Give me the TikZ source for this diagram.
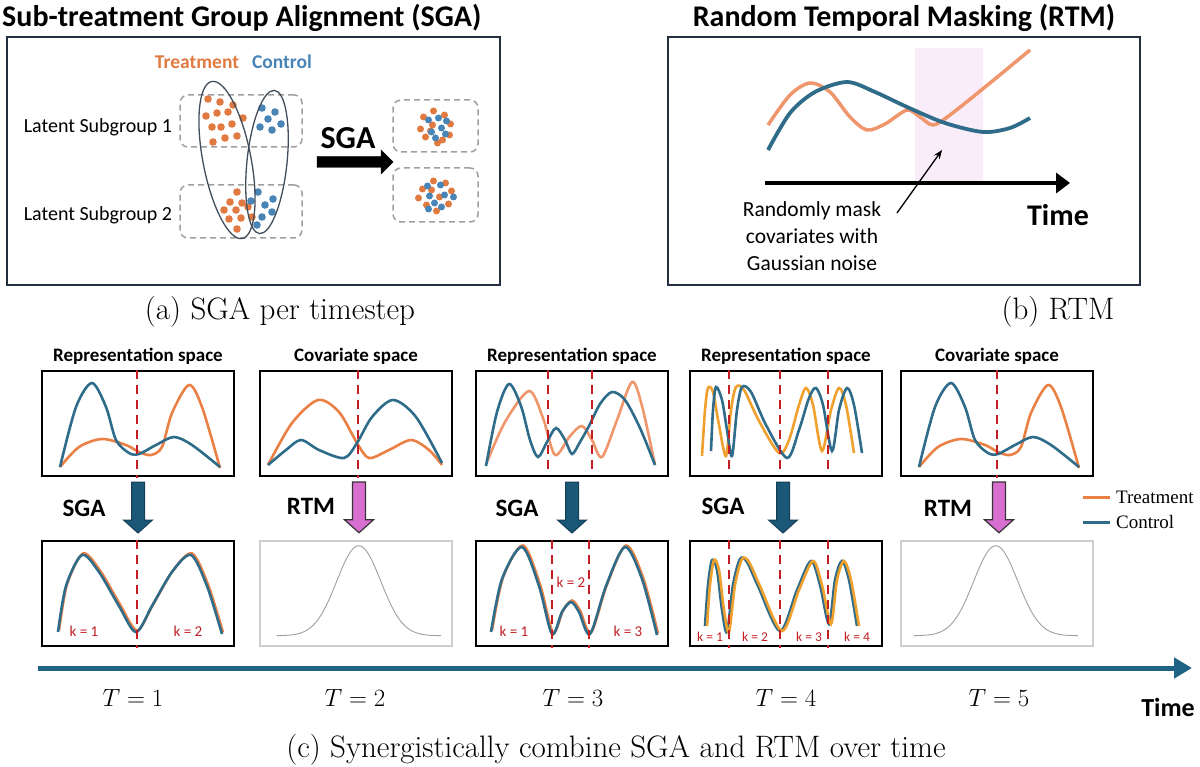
\documentclass[tikz,border=0pt]{standalone}
\usepackage{fontspec}
\setsansfont{Carlito}
\newfontfamily\legendfont{Liberation Serif}
\usepackage{tikz}
\usetikzlibrary{arrows.meta,calc}
\definecolor{treat-orange}{RGB}{224,122,64}
\definecolor{ctrl-blue}{RGB}{72,132,182}
\definecolor{curve-orange}{RGB}{234,128,68}
\definecolor{curve-blue}{RGB}{46,108,138}
\definecolor{soft-orange}{RGB}{240,150,108}
\definecolor{gold-orange}{RGB}{240,160,45}
\definecolor{mask-pink}{RGB}{249,237,250}
\definecolor{frame-navy}{RGB}{32,46,62}
\definecolor{cut-red}{RGB}{194,30,36}
\definecolor{sga-teal}{RGB}{27,88,120}
\definecolor{rtm-pink}{RGB}{216,110,208}
\definecolor{axis-teal}{RGB}{30,98,132}
\definecolor{light-frame}{RGB}{206,206,206}
\tikzstyle{titletext}=[font=\sffamily\bfseries\fontsize{30}{34}\selectfont, inner sep=0pt]
\tikzstyle{captext}=[font=\fontsize{31}{36}\selectfont, inner sep=0pt]
\tikzstyle{bigframe}=[draw=frame-navy, line width=2pt, inner sep=0pt]
\tikzstyle{groupbox}=[draw=gray!75, line width=1.5pt, rounded corners=8pt, dash pattern=on 6pt off 4pt, inner sep=0pt]
\tikzstyle{ring}=[draw=frame-navy!85, line width=1.3pt]
\tikzstyle{tdot}=[fill=treat-orange]
\tikzstyle{cdot}=[fill=ctrl-blue]
\tikzstyle{subtext}=[font=\sffamily\fontsize{20}{24}\selectfont, inner sep=0pt]
\tikzstyle{panel}=[draw=black, line width=2pt, minimum width=192pt, minimum height=105pt, inner sep=0pt]
\tikzstyle{greypanel}=[draw=light-frame, line width=2.5pt, minimum width=192pt, minimum height=105pt, inner sep=0pt]
\tikzstyle{cut}=[draw=cut-red, line width=2.3pt, dash pattern=on 9pt off 6pt]
\tikzstyle{tline}=[draw=curve-orange, line width=2.6pt]
\tikzstyle{cline}=[draw=curve-blue, line width=2.6pt]
\tikzstyle{gline}=[draw=gold-orange, line width=2.6pt]
\tikzstyle{gauss}=[draw=gray!75, line width=0.9pt]
\tikzstyle{klabel}=[text=cut-red, font=\sffamily\fontsize{15}{17}\selectfont, inner sep=0pt]
\tikzstyle{smallk}=[text=cut-red, font=\sffamily\fontsize{13.5}{15}\selectfont, inner sep=0pt]
\tikzstyle{spacetitle}=[font=\sffamily\bfseries\fontsize{19}{22}\selectfont, inner sep=0pt]
\tikzstyle{oplabel}=[font=\sffamily\bfseries\fontsize{25}{28}\selectfont, inner sep=0pt]
\tikzstyle{sgafill}=[fill=sga-teal, draw=sga-teal!70!black, line width=1pt]
\tikzstyle{rtmfill}=[fill=rtm-pink, draw=black!80, line width=1.2pt]
\tikzstyle{tlabel}=[font=\fontsize{24}{28}\selectfont, inner sep=0pt]
\tikzstyle{legendtext}=[font=\legendfont\fontsize{19}{22}\selectfont, inner sep=0pt]
\newcommand{\downArrow}[3]{
	\draw[#1] ($(#2)+(-6.5,0)$) -- ($(#3)+(-6.5,-13)$) -- ($(#3)+(-14.5,-13)$) -- (#3) -- ($(#3)+(14.5,-13)$) -- ($(#3)+(6.5,-13)$) -- ($(#2)+(6.5,0)$) -- cycle;
}
\newcommand{\rightArrow}[3]{
	\draw[#1] ($(#2)+(0,-5.5)$) -- ($(#3)+(-12,-5.5)$) -- ($(#3)+(-12,-12)$) -- (#3) -- ($(#3)+(-12,12)$) -- ($(#3)+(-12,5.5)$) -- ($(#2)+(0,5.5)$) -- cycle;
}
\newcommand{\bimodalPair}{
	\draw[tline] plot[smooth] coordinates {(19,97) (38,77) (61,69) (85,75) (98,82) (110,85) (121,77) (131,43) (148,15) (161,37) (179,98)};
	\draw[cline] plot[smooth] coordinates {(19,97) (35,37) (51,13) (65,37) (75,70) (88,83) (98,84) (115,75) (133,67) (151,75) (179,97)};
}
\newcommand{\gaussBump}[1]{
	\draw[gauss] plot[domain={#1-82}:{#1+82}, samples=90, smooth] (\x,{96-90*exp(-((\x-#1)^2)/968)});
}

\begin{document}
\begin{tikzpicture}[x=1pt,y=-1pt]
	\useasboundingbox (0,0) rectangle (1200,767);

	% (a) sub-treatment group alignment
	\node[titletext, anchor=west] (sgatitle) at (2,18) {Sub-treatment Group Alignment (SGA)};
	\node[bigframe, minimum width=493pt, minimum height=248pt] (sgabox) at (253.5,161) {};
	\node[font=\sffamily\bfseries\fontsize{19.5}{22}\selectfont, text=treat-orange, inner sep=0pt] (treatlbl) at (197,62) {Treatment};
	\node[font=\sffamily\bfseries\fontsize{19.5}{22}\selectfont, text=ctrl-blue, inner sep=0pt] (ctrllbl) at (282,62) {Control};
	\node[groupbox, minimum width=122pt, minimum height=52pt] (sub1) at (241,121) {};
	\node[groupbox, minimum width=122pt, minimum height=53pt] (sub2) at (241,211.5) {};
	\node[subtext, anchor=east] (sub1lbl) at ($(sub1.west)+(-7,6)$) {Latent Subgroup 1};
	\node[subtext, anchor=east] (sub2lbl) at ($(sub2.west)+(-7,4)$) {Latent Subgroup 2};
	\foreach \p in {(208,99),(220,102),(233,105),(206,116),(217,113),(228,112),(243,118),(212,127),(221,127),(232,124),(213,142),(225,138),(237,136),
		(237,192),(230,202),(242,203),(224,210),(236,210),(248,207),(229,219),(241,218),(252,217),(237,229)}
		\fill[tdot] \p circle (3.8);
	\foreach \p in {(262,108),(275,112),(268,119),(260,127),(272,130),(281,124),
		(258,192),(273,199),(251,201),(265,205),(272,212),(262,217),(257,225)}
		\fill[cdot] \p circle (3.8);
	\draw[ring, rotate around={11:(227,160)}] (227,160) ellipse (24 and 80);
	\draw[ring, rotate around={-6:(267,162)}] (267,162) ellipse (20 and 72);
	\coordinate (sgaA) at (317,162);
	\coordinate (sgaB) at (393,162);
	\rightArrow{fill=black}{sgaA}{sgaB}
	\node[font=\sffamily\bfseries\fontsize{32}{36}\selectfont, inner sep=0pt] (sgalbl) at (348,138) {SGA};
	\node[groupbox, minimum width=85pt, minimum height=52pt] (mix1) at (435.5,126) {};
	\node[groupbox, minimum width=85pt, minimum height=54pt] (mix2) at (435.5,195) {};
	\begin{scope}[shift={(mix1.center)}]
		\foreach \p in {(-2,-15),(-12,-9),(9,-11),(15,-2),(-15,3),(-3,-1),(14,9),(-10,11),(7,14),(2,17),(-5,5)}
			\fill[tdot] \p circle (3.5);
		\foreach \p in {(-7,-6),(3,-8),(11,-5),(-4,6),(6,2),(0,12),(10,8)}
			\fill[cdot] \p circle (3.5);
	\end{scope}
	\begin{scope}[shift={(mix2.center)}]
		\foreach \p in {(-2,-14),(-13,-6),(10,-12),(16,-4),(-17,3),(4,2),(-9,10),(13,9),(1,16),(-4,-5)}
			\fill[tdot] \p circle (3.5);
		\foreach \p in {(-8,-9),(5,-10),(-6,1),(9,0),(-1,8),(18,2),(-7,14),(6,12)}
			\fill[cdot] \p circle (3.5);
	\end{scope}
	\node[captext] (capa) at (280,312) {(a) SGA per timestep};

	% (b) random temporal masking
	\node[titletext] (rtmtitle) at (904,18) {Random Temporal Masking (RTM)};
	\node[bigframe, minimum width=472pt, minimum height=248pt] (rtmbox) at (904,161) {};
	\fill[mask-pink] (915,48) rectangle (983,182);
	\draw[draw=soft-orange, line width=3.5pt] plot[smooth] coordinates {(768,125) (790,95) (810,83) (830,92) (850,117) (867,130) (885,124) (907,110) (920,117) (933,125) (950,115) (990,83) (1030,50)};
	\draw[draw=curve-blue, line width=3.8pt] plot[smooth] coordinates {(768,150) (790,113) (815,92) (847,82) (875,92) (907,107) (945,123) (983,132) (1010,128) (1030,118)};
	\coordinate (tb0) at (765,183);
	\coordinate (tb1) at (1070,183);
	\draw[line width=4pt, -{Triangle[length=14pt,width=20pt]}] (tb0) -- (tb1);
	\node[font=\sffamily\bfseries\fontsize{30}{34}\selectfont, inner sep=0pt] (timeb) at (1058,215) {Time};
	\node[font=\sffamily\fontsize{21.5}{27}\selectfont, align=center, inner sep=0pt] (masklbl) at (812,236) {Randomly mask\\covariates with\\Gaussian noise};
	\coordinate (maskfrom) at (897,213);
	\coordinate (maskto) at (942,150);
	\draw[line width=1.3pt, -{Stealth[length=9pt,width=7pt]}] (maskfrom) -- (maskto);
	\node[captext] (capb) at (1058,312) {(b) RTM};

	% (c) panels over time
	\node[spacetitle] (st1) at (138,356) {Representation space};
	\node[spacetitle] (st2) at (356,356) {Covariate space};
	\node[spacetitle] (st3) at (572,356) {Representation space};
	\node[spacetitle] (st4) at (786,356) {Representation space};
	\node[spacetitle] (st5) at (997,356) {Covariate space};
	\node[panel] (rep1) at (138,423.5) {};
	\node[panel] (sga1) at (138,593.5) {};
	\node[panel] (cov2) at (356,423.5) {};
	\node[greypanel] (rtm2) at (356,593.5) {};
	\node[panel] (rep3) at (572,423.5) {};
	\node[panel] (sga3) at (572,593.5) {};
	\node[panel] (rep4) at (786,423.5) {};
	\node[panel] (sga4) at (786,593.5) {};
	\node[panel] (cov5) at (997,423.5) {};
	\node[greypanel] (rtm5) at (997,593.5) {};

	\begin{scope}[shift={(rep1.north west)}]
		\bimodalPair
		\draw[cut] (96,0) -- (96,108);
	\end{scope}
	\begin{scope}[shift={(sga1.north west)}]
		\draw[tline] plot[smooth] coordinates {(18,90.5) (26,44.5) (42,13.5) (59,30.5) (79,64.5) (96,90.5) (112,64.5) (132,30.5) (151,13.5) (167,44.5) (182,92.5)};
		\draw[cline] plot[smooth] coordinates {(17,92) (25,46) (41,15) (58,32) (78,66) (95,92) (111,66) (131,32) (150,15) (166,46) (181,94)};
		\draw[cut] (96,0) -- (96,108);
		\node[klabel] (k11) at (43,91) {k = 1};
		\node[klabel] (k12) at (147,91) {k = 2};
	\end{scope}
	\begin{scope}[shift={(cov2.north west)}]
		\draw[tline] plot[smooth] coordinates {(9,95) (33,53) (59,30) (80,42) (98,73) (110,88) (130,80) (152,70) (170,80) (183,95)};
		\draw[cline] plot[smooth] coordinates {(9,95) (27,80) (42,70) (60,80) (85,88) (98,73) (113,47) (134,30) (157,47) (183,93)};
		\draw[cut] (99,0) -- (99,108);
	\end{scope}
	\begin{scope}[shift={(rtm2.north west)}]
		\gaussBump{100}
	\end{scope}
	\begin{scope}[shift={(rep3.north west)}]
		\draw[draw=soft-orange, line width=2.6pt] plot[smooth] coordinates {(12,92) (30,52) (54,21) (68,48) (80,85) (95,66) (107,56) (117,70) (127,87) (142,50) (157,12) (167,36) (180,95)};
		\draw[cline] plot[smooth] coordinates {(11,96) (22,42) (34,14) (46,36) (55,70) (63,87) (72,72) (81,58) (90,70) (97,84) (105,72) (114,56) (125,34) (137,22) (150,30) (165,58) (180,95)};
		\draw[cut] (73,0) -- (73,105);
		\draw[cut] (117,0) -- (117,105);
	\end{scope}
	\begin{scope}[shift={(sga3.north west)}]
		\draw[tline] plot[smooth] coordinates {(17,90.5) (28,37.5) (48,5.5) (65,44.5) (78,92.5) (88,70.5) (97,60.5) (105,70.5) (116,92.5) (132,44.5) (151,5.5) (168,37.5) (183,93.5)};
		\draw[cline] plot[smooth] coordinates {(16,92) (27,39) (47,7) (64,46) (77,94) (87,72) (96,62) (104,72) (115,94) (131,46) (150,7) (167,39) (182,95)};
		\draw[cut] (77,0) -- (77,108);
		\draw[cut] (114,0) -- (114,108);
		\node[klabel] (k31) at (39,91) {k = 1};
		\node[klabel, fill=white, inner sep=1pt] (k32) at (96,42) {k = 2};
		\node[klabel] (k33) at (153,91) {k = 3};
	\end{scope}
	\begin{scope}[shift={(rep4.north west)}]
		\draw[gline] plot[smooth] coordinates {(13,86) (16,40) (19,18) (24,22) (30,55) (37,86) (42,40) (47,17) (55,20) (70,51) (90,83) (100,70) (110,35) (117,18) (124,35) (133,81) (142,40) (150,18) (157,35) (165,83)};
		\draw[cline] plot[smooth] coordinates {(22,81) (24,40) (27,17) (33,30) (38,60) (43,86) (48,40) (53,17) (62,22) (77,55) (98,88) (110,60) (120,28) (127,18) (134,35) (143,81) (150,40) (158,18) (165,35) (173,83)};
		\draw[cut] (40,0) -- (40,105);
		\draw[cut] (91,0) -- (91,105);
		\draw[cut] (139,0) -- (139,105);
	\end{scope}
	\begin{scope}[shift={(sga4.north west)}]
		\draw[cline] plot[smooth] coordinates {(16,86) (19,45) (23,20) (28,30) (33,70) (38,92) (44,45) (51,19) (58,22) (69,46) (91,91) (108,50) (122,21) (131,45) (140,84) (146,40) (153,21) (160,40) (168,86)};
		\draw[gline] plot[smooth] coordinates {(18,86) (21,45) (25,20) (30,30) (35,70) (40,92) (46,45) (53,19) (60,22) (71,46) (93,91) (110,50) (124,21) (133,45) (142,84) (148,40) (155,21) (162,40) (170,86)};
		\draw[cut] (40,0) -- (40,108);
		\draw[cut] (91,0) -- (91,108);
		\draw[cut] (139,0) -- (139,108);
		\node[smallk] (k41) at (21,97) {k = 1};
		\node[smallk] (k42) at (66,97) {k = 2};
		\node[smallk] (k43) at (120,97) {k = 3};
		\node[smallk] (k44) at (168,97) {k = 4};
	\end{scope}
	\begin{scope}[shift={(cov5.north west)}]
		\bimodalPair
		\draw[cut] (97,0) -- (97,108);
	\end{scope}
	\begin{scope}[shift={(rtm5.north west)}]
		\gaussBump{96}
	\end{scope}

	% operators between the rows
	\coordinate (a1s) at ($(rep1.south)+(0,5)$);
	\coordinate (a1e) at ($(sga1.north)+(0,-7)$);
	\downArrow{sgafill}{a1s}{a1e}
	\coordinate (a2s) at ($(cov2.south)+(3,5)$);
	\coordinate (a2e) at ($(rtm2.north)+(3,-7)$);
	\downArrow{rtmfill}{a2s}{a2e}
	\coordinate (a3s) at ($(rep3.south)+(0,5)$);
	\coordinate (a3e) at ($(sga3.north)+(0,-7)$);
	\downArrow{sgafill}{a3s}{a3e}
	\coordinate (a4s) at ($(rep4.south)+(-3,5)$);
	\coordinate (a4e) at ($(sga4.north)+(-3,-7)$);
	\downArrow{sgafill}{a4s}{a4e}
	\coordinate (a5s) at ($(cov5.south)+(2,5)$);
	\coordinate (a5e) at ($(rtm5.north)+(2,-7)$);
	\downArrow{rtmfill}{a5s}{a5e}
	\node[oplabel] (op1) at (84,508) {SGA};
	\node[oplabel] (op2) at (311,506) {RTM};
	\node[oplabel] (op3) at (517,508) {SGA};
	\node[oplabel] (op4) at (723,506) {SGA};
	\node[oplabel] (op5) at (948,508) {RTM};

	% legend
	\coordinate (lgT0) at (1083,497);
	\coordinate (lgT1) at (1110,497);
	\coordinate (lgC0) at (1083,522);
	\coordinate (lgC1) at (1110,522);
	\draw[draw=curve-orange, line width=3pt] (lgT0) -- (lgT1);
	\draw[draw=curve-blue, line width=3pt] (lgC0) -- (lgC1);
	\node[legendtext, anchor=west] (lgT) at (1116,497) {Treatment};
	\node[legendtext, anchor=west] (lgC) at (1116,522) {Control};

	% time axis
	\coordinate (tc0) at (38,668);
	\coordinate (tc1) at (1192,668);
	\draw[draw=axis-teal, line width=5pt, -{Triangle[length=18pt,width=20pt]}] (tc0) -- (tc1);
	\node[tlabel] (t1) at (133,698) {$T = 1$};
	\node[tlabel] (t2) at (355,698) {$T = 2$};
	\node[tlabel] (t3) at (573,698) {$T = 3$};
	\node[tlabel] (t4) at (786,698) {$T = 4$};
	\node[tlabel] (t5) at (999,698) {$T = 5$};
	\node[font=\sffamily\bfseries\fontsize{26}{30}\selectfont, inner sep=0pt] (timec) at (1168,707) {Time};
	\node[captext] (capc) at (616,750) {(c) Synergistically combine SGA and RTM over time};
\end{tikzpicture}
\end{document}
